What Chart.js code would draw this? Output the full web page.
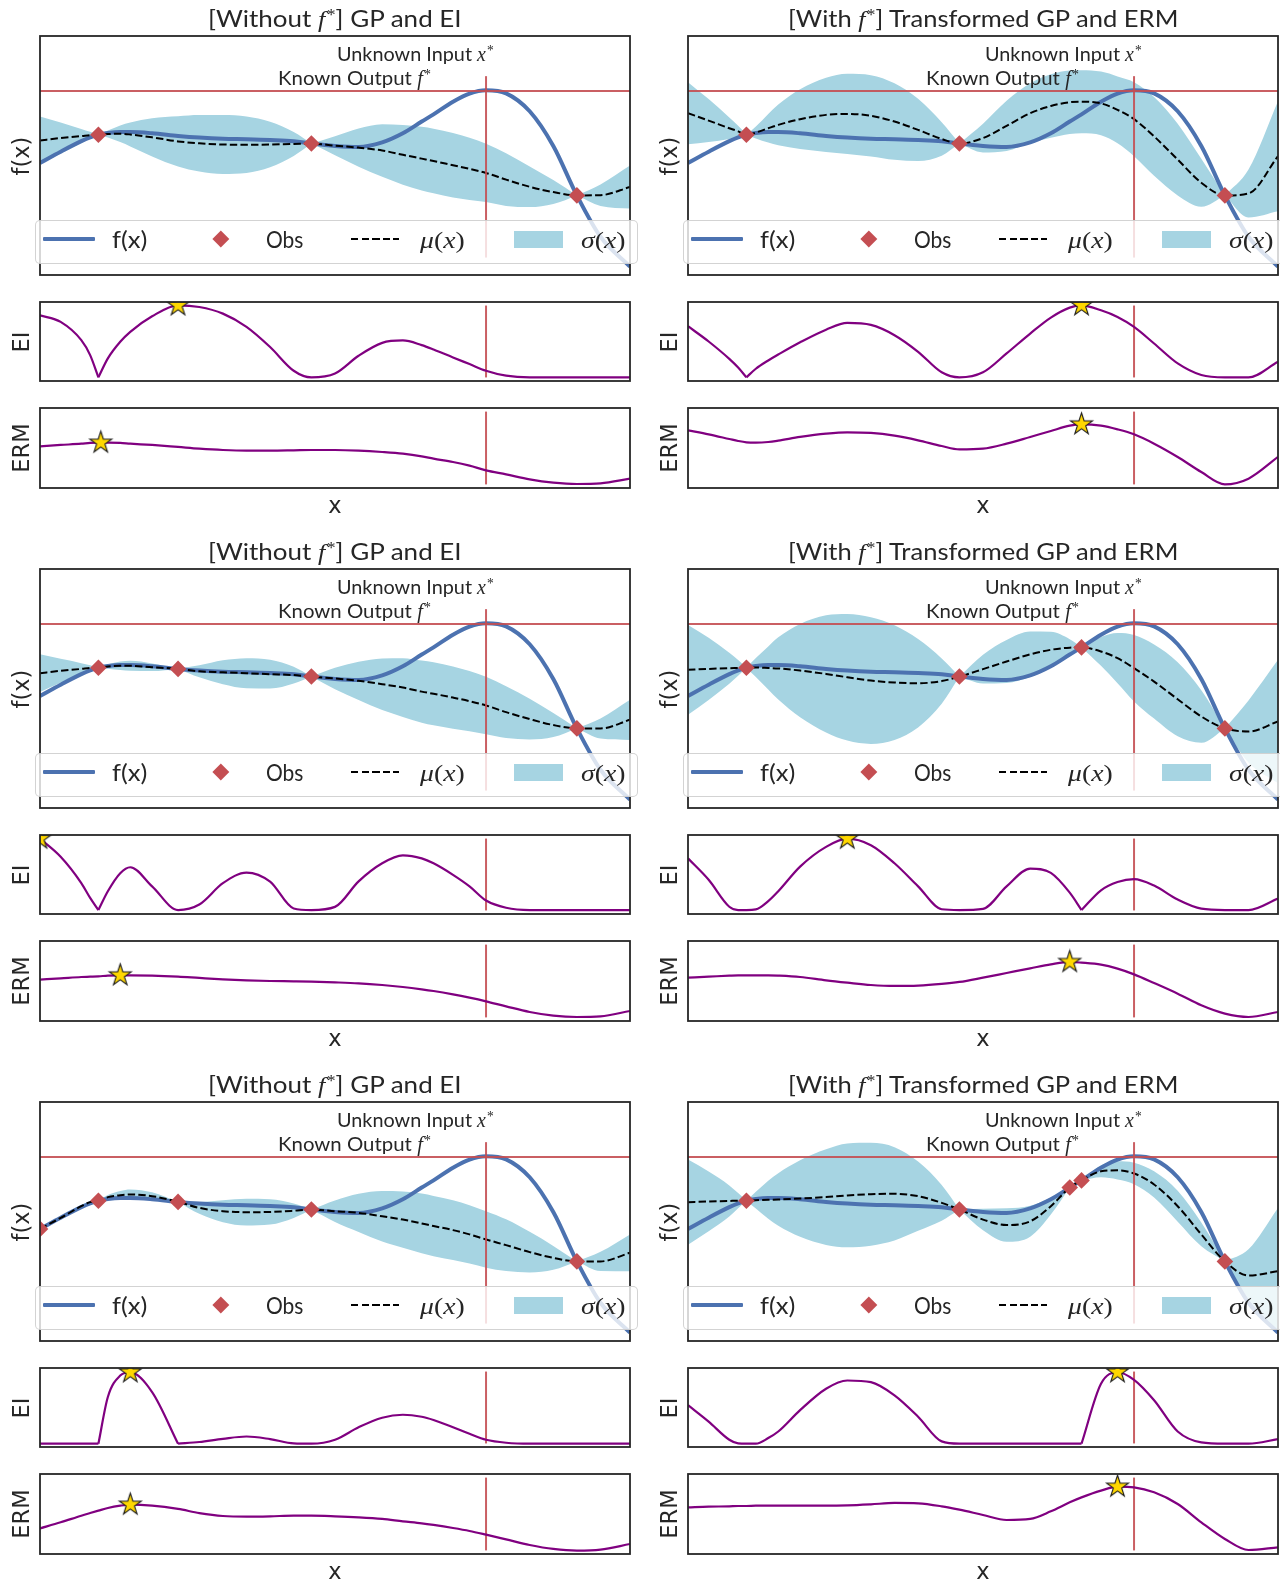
<!DOCTYPE html>
<html>
<head>
<meta charset="utf-8">
<title>GP and EI versus Transformed GP and ERM</title>
<script src="https://cdn.jsdelivr.net/npm/chart.js@4.4.1/dist/chart.umd.min.js"></script>
<style>
  html, body { margin: 0; padding: 0; background: #fff; }
  body { position: relative; width: 1280px; height: 1581px; overflow: hidden; }
  canvas.plot { position: absolute; }
  .t { position: absolute; white-space: nowrap; line-height: 1; color: #262626; transform-origin: left center; }
  .sans { font-family: Lato, "Open Sans", sans-serif; font-weight: 400; }
  .s24 { font-size: 24px; }
  .s20 { font-size: 20px; }
  .dv { font-family: "DejaVu Sans", sans-serif; font-size: 22.5px; }
  .m { font-family: "Liberation Serif", "DejaVu Serif", serif; font-style: italic; font-weight: 400; }
  .up { font-family: "Liberation Serif", "DejaVu Serif", serif; font-style: normal; font-weight: 400; }
  .sup { font-family: "Liberation Serif", "DejaVu Serif", serif; font-size: 0.68em; position: relative; top: -0.45em; margin-left: 0.08em; font-weight: 400; }
  .leg { position: absolute; box-sizing: border-box; border: 1px solid rgba(200,200,200,0.8); border-radius: 5px; background: rgba(255,255,255,0.8); }
  .sym { position: absolute; }
</style>
</head>
<body>
<script>
// ---------- input grid (unit interval) ----------
const X = [0, 0.035, 0.07, 0.085, 0.099, 0.115, 0.136, 0.153, 0.19, 0.234, 0.27, 0.31, 0.35, 0.39, 0.43,
           0.46, 0.5, 0.54, 0.58, 0.615, 0.647, 0.667, 0.7, 0.728, 0.756, 0.79, 0.83, 0.87, 0.91, 0.95, 1.0];

// ---------- objective and its optimum ----------
const F_TRUE = [46.9, 51.6, 56.0, 57.6, 58.7, 59.4, 59.8, 59.8, 59.3, 58.2, 57.5, 57.0, 56.8, 56.5, 56.0,
                55.0, 54.0, 53.6, 55.5, 59.3, 64.2, 67.2, 72.5, 75.9, 77.3, 76.0, 68.5, 54.0, 33.3, 16.0, 3.5];
const F_STAR = 77.0;
const X_STAR = 0.756;
const VLINE_F = [7.3, 83.2];
const VLINE_ACQ = [4.5, 95.5];

// ---------- iteration 1, GP + EI ----------
const OBS_X_L1 = [0.099, 0.46, 0.91];
const OBS_Y_L1 = [58.7, 55.0, 33.3];
const MU_L1 = [56.3, 57.3, 58.1, 58.5, 58.7, 59.0, 59.1, 58.8, 57.6, 55.9, 55.1, 54.6, 54.5, 54.6, 54.8,
               55.0, 54.1, 53.3, 52.1, 50.3, 48.7, 47.7, 45.9, 44.4, 42.7, 39.9, 36.9, 34.7, 33.3, 33.4, 36.8];
const SD_L1 = [10.0, 6.5, 3.0, 1.4, 0, 1.5, 3.5, 5.0, 8.0, 10.5, 11.8, 12.3, 11.8, 9.5, 5.0,
               0, 4.0, 8.0, 11.0, 12.5, 13.3, 13.5, 13.5, 13.0, 12.2, 11.0, 8.5, 5.0, 0, 4.5, 9.0];
const EI_L1 = [83.2, 74.8, 51.7, 32.8, 4.6, 28.6, 49.6, 62.2, 81.9, 95.8, 93.7, 85.3, 68.5, 43.0, 13.0,
               4.6, 9.5, 32.0, 48.3, 51.3, 45.4, 39.9, 29.8, 21.4, 13.0, 6.7, 4.6, 4.6, 4.6, 4.6, 4.6];
const ERM_L1 = [52.1, 53.8, 55.4, 56.3, 56.7, 56.7, 56.3, 55.4, 53.8, 51.3, 49.2, 47.5, 46.7, 46.7, 47.1,
                47.5, 47.5, 46.7, 45.0, 42.9, 39.6, 36.7, 32.5, 27.9, 22.1, 17.1, 10.8, 6.7, 5.0, 5.8, 11.7];
const STAR_EI_L1 = [0.234, 95.8];
const STAR_ERM_L1 = [0.103, 56.7];
const KINK_L1 = [0.099];

// ---------- iteration 1, transformed GP + ERM ----------
const OBS_X_R1 = [0.099, 0.46, 0.91];
const OBS_Y_R1 = [58.7, 55.0, 33.3];
const MU_R1 = [67.7, 64.6, 61.4, 60.1, 58.7, 59.6, 61.4, 62.8, 65.2, 67.0, 67.4, 66.6, 64.2, 60.7, 56.9,
               55.0, 57.3, 62.4, 67.7, 70.7, 72.3, 72.5, 71.8, 69.1, 65.2, 58.0, 48.3, 38.6, 33.3, 34.1, 49.7];
const SD_R1 = [13.0, 9.0, 4.5, 2.3, 0, 2.5, 6.0, 8.5, 12.5, 15.5, 16.8, 17.0, 16.0, 13.0, 7.0,
               0, 6.0, 10.5, 12.5, 13.3, 13.3, 13.2, 13.3, 14.0, 15.5, 16.5, 15.0, 10.0, 0, 10.0, 23.0];
const EI_R1 = [69.3, 50.0, 28.0, 17.0, 4.6, 15.5, 26.0, 33.5, 49.0, 65.0, 73.5, 71.0, 58.0, 37.0, 11.0,
               4.6, 11.0, 34.9, 60.1, 80.3, 92.9, 95.8, 89.5, 81.1, 68.5, 47.5, 22.3, 7.6, 4.6, 4.6, 24.4];
const ERM_R1 = [72.1, 67.1, 61.3, 58.8, 57.1, 56.7, 57.5, 59.2, 63.8, 67.9, 69.6, 68.8, 65.4, 59.6, 52.5,
                48.3, 49.2, 55.4, 63.8, 71.3, 77.9, 79.6, 77.9, 73.3, 67.1, 55.4, 38.8, 20.0, 4.6, 11.7, 38.8];
const STAR_EI_R1 = [0.667, 95.8];
const STAR_ERM_R1 = [0.667, 79.6];
const KINK_R1 = [0.099];

// ---------- iteration 2, GP + EI ----------
const OBS_X_L2 = [0.099, 0.234, 0.46, 0.91];
const OBS_Y_L2 = [58.7, 58.2, 55.0, 33.3];
const MU_L2 = [56.4, 57.4, 58.2, 58.6, 58.7, 59.2, 59.5, 59.5, 58.9, 58.2, 57.2, 56.8, 56.4, 56.0, 55.6,
               55.0, 54.2, 53.2, 51.8, 50.4, 48.7, 47.8, 46.2, 44.7, 42.9, 40.1, 37.2, 34.7, 33.3, 33.3, 36.9];
const SD_L2 = [7.9, 5.0, 2.4, 1.1, 0, 0.9, 1.8, 2.1, 1.6, 0, 2.5, 5.0, 6.3, 6.0, 3.5,
               0, 4.5, 8.0, 10.8, 12.3, 13.0, 13.2, 13.0, 12.6, 12.0, 10.8, 8.5, 5.0, 0, 4.2, 8.4];
const EI_L2 = [95.4, 72.5, 39.2, 20.4, 5.0, 28.8, 51.7, 59.2, 35.0, 5.0, 12.0, 39.0, 52.5, 41.0, 7.0,
               5.0, 9.0, 41.3, 64.2, 74.2, 70.4, 64.2, 49.6, 35.0, 17.1, 7.9, 5.0, 5.0, 5.0, 5.0, 5.0];
const ERM_L2 = [51.7, 53.3, 55.0, 55.4, 55.8, 56.7, 57.1, 57.1, 56.7, 55.4, 53.8, 52.1, 50.8, 50.0, 49.6,
                49.2, 48.3, 47.1, 45.0, 42.5, 39.6, 37.5, 33.3, 29.2, 24.6, 18.3, 11.3, 6.7, 5.0, 5.8, 12.5];
const STAR_EI_L2 = [0, 95.4];
const STAR_ERM_L2 = [0.136, 57.1];
const KINK_L2 = [0.099];

// ---------- iteration 2, transformed GP + ERM ----------
const OBS_X_R2 = [0.099, 0.46, 0.667, 0.91];
const OBS_Y_R2 = [58.7, 55.0, 67.2, 33.3];
const MU_R2 = [57.8, 58.2, 58.5, 58.6, 58.7, 58.8, 58.6, 58.4, 57.5, 56.1, 54.7, 53.3, 52.5, 52.2, 53.1,
               55.0, 58.1, 61.3, 64.3, 66.2, 67.1, 67.2, 65.5, 62.7, 58.5, 52.9, 45.5, 38.3, 33.3, 32.0, 36.2];
const SD_R2 = [18.8, 13.0, 6.5, 3.3, 0, 4.0, 9.0, 13.0, 19.5, 24.5, 26.5, 26.5, 24.0, 18.5, 9.5,
               0, 6.0, 9.0, 9.5, 7.5, 3.5, 0, 6.0, 10.5, 13.9, 15.5, 15.5, 11.0, 0, 13.0, 25.8];
const EI_R2 = [70.4, 43.3, 9.2, 5.0, 5.0, 5.8, 16.3, 28.8, 60.0, 85.0, 95.4, 87.1, 64.2, 35.0, 6.0,
               5.0, 6.5, 35.0, 57.5, 52.0, 27.0, 5.0, 30.0, 40.5, 44.2, 36.0, 18.3, 6.7, 5.0, 5.0, 19.6];
const ERM_R2 = [54.2, 55.4, 56.7, 57.1, 57.1, 57.1, 57.1, 56.7, 55.0, 50.8, 47.9, 45.0, 43.8, 44.2, 46.3,
                48.8, 54.2, 60.0, 65.8, 70.8, 73.8, 72.9, 70.4, 65.4, 58.3, 47.5, 34.2, 19.6, 9.2, 5.0, 11.3];
const STAR_EI_R2 = [0.27, 95.4];
const STAR_ERM_R2 = [0.647, 73.8];
const KINK_R2 = [0.667];

// ---------- iteration 3, GP + EI ----------
const OBS_X_L3 = [0, 0.099, 0.234, 0.46, 0.91];
const OBS_Y_L3 = [46.9, 58.7, 58.2, 55.0, 33.3];
const MU_L3 = [46.9, 51.5, 56.4, 58.1, 58.7, 60.2, 61.0, 61.3, 60.6, 58.2, 55.7, 54.3, 53.9, 54.0, 54.5,
               55.0, 54.3, 53.6, 52.2, 50.8, 49.2, 48.1, 46.4, 44.6, 42.5, 40.1, 37.2, 34.8, 33.3, 33.3, 36.9];
const SD_L3 = [0, 0.6, 0.6, 0.3, 0, 0.9, 1.8, 2.1, 1.6, 0, 2.5, 4.6, 5.6, 5.3, 3.0,
               0, 4.5, 8.0, 10.6, 11.8, 12.5, 12.6, 12.5, 12.2, 11.8, 10.8, 8.5, 5.0, 0, 4.0, 7.7];
const EI_L3 = [4.2, 4.2, 4.2, 4.2, 4.2, 63.3, 90.4, 94.6, 69.6, 4.2, 6.3, 10.4, 13.3, 10.0, 4.6,
               4.2, 9.2, 25.0, 37.1, 40.8, 38.3, 34.2, 25.0, 16.7, 9.2, 5.4, 4.2, 4.2, 4.2, 4.2, 4.2];
const ERM_L3 = [32.1, 39.6, 47.9, 51.2, 54.2, 57.5, 60.4, 61.7, 60.4, 56.3, 51.2, 47.5, 46.7, 47.1, 47.9,
                47.9, 47.1, 45.8, 43.8, 40.8, 38.3, 36.3, 32.5, 28.8, 24.2, 18.3, 11.3, 6.3, 4.2, 5.4, 12.5];
const STAR_EI_L3 = [0.153, 94.6];
const STAR_ERM_L3 = [0.153, 61.7];
const KINK_L3 = [0.099, 0.234];

// ---------- iteration 3, transformed GP + ERM ----------
const OBS_X_R3 = [0.099, 0.46, 0.647, 0.667, 0.91];
const OBS_Y_R3 = [58.7, 55.0, 64.2, 67.2, 33.3];
const MU_R3 = [58.1, 58.4, 58.6, 58.7, 58.7, 58.9, 59.1, 59.2, 59.6, 60.2, 60.9, 61.4, 61.6, 60.6, 57.8,
               55.0, 50.8, 48.5, 50.1, 56.4, 64.2, 67.2, 71.0, 71.4, 70.1, 65.5, 56.4, 44.6, 33.3, 27.4, 29.2];
const SD_R3 = [17.8, 12.5, 6.5, 3.2, 0, 3.5, 8.0, 11.0, 16.0, 20.0, 21.7, 21.5, 19.5, 14.5, 7.5,
               0, 4.5, 7.0, 6.5, 3.5, 0, 0, 2.5, 3.8, 4.5, 5.5, 6.5, 5.0, 0, 11.0, 26.5];
const EI_R3 = [52.9, 32.1, 9.2, 4.6, 4.2, 4.2, 11.3, 19.6, 46.7, 73.8, 84.2, 82.1, 65.4, 38.3, 7.1,
               4.2, 4.2, 4.2, 4.2, 4.2, 4.2, 4.2, 80.0, 94.6, 85.0, 59.2, 19.6, 5.8, 4.2, 4.2, 10.0];
const ERM_R3 = [58.3, 59.2, 59.6, 60.0, 60.0, 60.4, 60.4, 60.4, 60.4, 60.4, 60.8, 62.1, 63.8, 63.3, 59.6,
                55.4, 48.8, 42.5, 43.8, 53.3, 64.6, 70.8, 79.2, 84.2, 83.3, 77.1, 62.5, 39.6, 18.8, 5.0, 8.3];
const STAR_EI_R3 = [0.728, 94.6];
const STAR_ERM_R3 = [0.728, 84.2];
const KINK_R3 = [0.667];

// ---------- colours ----------
const BLUE = '#4C72B0';
const RED = '#C44E52';
const RED_LINE = 'rgba(196,78,82,0.9)';
const BAND = '#A6D4E2';
const PURPLE = '#800080';
const FRAME = '#262626';

// ---------- layout ----------
const AX_X = [40, 688];
const AX_W = 590;
const ROW_Y = [0, 533, 1066];
const F_BOX = [36, 239];
const EI_BOX = [302, 79];
const ERM_BOX = [408, 80];
const PAD = 14;

const PANELS = [
  {col: 0, row: 0, mu: MU_L1, sd: SD_L1, ei: EI_L1, erm: ERM_L1, ox: OBS_X_L1, oy: OBS_Y_L1, se: STAR_EI_L1, sr: STAR_ERM_L1, kinks: KINK_L1},
  {col: 1, row: 0, mu: MU_R1, sd: SD_R1, ei: EI_R1, erm: ERM_R1, ox: OBS_X_R1, oy: OBS_Y_R1, se: STAR_EI_R1, sr: STAR_ERM_R1, kinks: KINK_R1},
  {col: 0, row: 1, mu: MU_L2, sd: SD_L2, ei: EI_L2, erm: ERM_L2, ox: OBS_X_L2, oy: OBS_Y_L2, se: STAR_EI_L2, sr: STAR_ERM_L2, kinks: KINK_L2},
  {col: 1, row: 1, mu: MU_R2, sd: SD_R2, ei: EI_R2, erm: ERM_R2, ox: OBS_X_R2, oy: OBS_Y_R2, se: STAR_EI_R2, sr: STAR_ERM_R2, kinks: KINK_R2},
  {col: 0, row: 2, mu: MU_L3, sd: SD_L3, ei: EI_L3, erm: ERM_L3, ox: OBS_X_L3, oy: OBS_Y_L3, se: STAR_EI_L3, sr: STAR_ERM_L3, kinks: KINK_L3},
  {col: 1, row: 2, mu: MU_R3, sd: SD_R3, ei: EI_R3, erm: ERM_R3, ox: OBS_X_R3, oy: OBS_Y_R3, se: STAR_EI_R3, sr: STAR_ERM_R3, kinks: KINK_R3}
];

const TITLES = [
  '[Without <span class="m">f</span><span class="sup">*</span>] GP and EI',
  '[With <span class="m">f</span><span class="sup">*</span>] Transformed GP and ERM'
];
const TITLE_W = [253.5, 390.8];

// ---------- helpers ----------
const pts = ys => X.map((x, i) => ({x, y: ys[i]}));
const pairs = (xs, ys) => xs.map((x, i) => ({x, y: ys[i]}));

// split a sampled curve at the given inputs so that corners stay sharp there
function pieces(ys, atX) {
  const cuts = atX.map(x => X.indexOf(x)).filter(i => i > 0 && i < X.length - 1);
  const idx = [0, ...cuts, X.length - 1];
  const out = [];
  for (let k = 0; k < idx.length - 1; k++) {
    const seg = [];
    for (let i = idx[k]; i <= idx[k + 1]; i++) seg.push({x: X[i], y: ys[i]});
    out.push(seg);
  }
  return out;
}

// gold five-pointed star marker
function makeStar(R) {
  const s = Math.ceil(2 * R + 4);
  const c = document.createElement('canvas');
  c.width = s; c.height = s;
  const g = c.getContext('2d');
  g.translate(s / 2, s / 2);
  g.beginPath();
  for (let k = 0; k < 10; k++) {
    const r = k % 2 === 0 ? R : R * 0.382;
    const a = -Math.PI / 2 + k * Math.PI / 5;
    const px = r * Math.cos(a), py = r * Math.sin(a);
    if (k === 0) g.moveTo(px, py); else g.lineTo(px, py);
  }
  g.closePath();
  g.fillStyle = '#FFD700';
  g.fill();
  g.lineWidth = 1.1;
  g.strokeStyle = '#1a1a1a';
  g.lineJoin = 'miter';
  g.stroke();
  return c;
}
const STAR = makeStar(11.5);

const framePlugin = {
  id: 'frame',
  afterDraw(chart) {
    const {ctx, chartArea: a} = chart;
    ctx.save();
    ctx.strokeStyle = FRAME;
    ctx.lineWidth = 1.8;
    ctx.strokeRect(a.left, a.top, a.right - a.left, a.bottom - a.top);
    ctx.restore();
  }
};

function options() {
  return {
    responsive: false,
    animation: false,
    events: [],
    layout: {padding: PAD},
    plugins: {legend: {display: false}, tooltip: {enabled: false}, title: {display: false}},
    scales: {
      x: {type: 'linear', min: 0, max: 1, display: false},
      y: {type: 'linear', min: 0, max: 100, display: false}
    },
    elements: {
      point: {radius: 0},
      line: {cubicInterpolationMode: 'monotone', borderCapStyle: 'butt', borderJoinStyle: 'round'}
    }
  };
}

function mkChart(left, top, w, h, datasets) {
  const c = document.createElement('canvas');
  c.className = 'plot';
  c.width = w + 2 * PAD;
  c.height = h + 2 * PAD;
  c.style.left = (left - PAD) + 'px';
  c.style.top = (top - PAD) + 'px';
  c.style.width = c.width + 'px';
  c.style.height = c.height + 'px';
  document.body.appendChild(c);
  return new Chart(c, {type: 'line', data: {datasets}, options: options(), plugins: [framePlugin]});
}

const straight = {cubicInterpolationMode: 'default', tension: 0, fill: false, clip: 0};

function fDatasets(p) {
  const upper = p.mu.map((m, i) => m + p.sd[i]);
  const lower = p.mu.map((m, i) => m - p.sd[i]);
  const up = pieces(upper, p.ox);
  const lo = pieces(lower, p.ox);
  const band = [];
  up.forEach((seg, k) => {
    band.push({data: seg, borderWidth: 0, backgroundColor: BAND, fill: '+1', order: 10, clip: 0});
    band.push({data: lo[k], borderWidth: 0, fill: false, order: 10, clip: 0});
  });
  return band.concat([
    {data: pts(F_TRUE), borderColor: BLUE, borderWidth: 4, fill: false, order: 8, clip: 0},
    {data: pts(p.mu), borderColor: '#000', borderWidth: 2, borderDash: [7.4, 3.2], fill: false, order: 7, clip: 0},
    Object.assign({data: [{x: 0, y: F_STAR}, {x: 1, y: F_STAR}], borderColor: RED_LINE, borderWidth: 2, order: 5}, straight),
    Object.assign({data: [{x: X_STAR, y: VLINE_F[0]}, {x: X_STAR, y: VLINE_F[1]}], borderColor: RED_LINE, borderWidth: 2, order: 5}, straight),
    {data: pairs(p.ox, p.oy), showLine: false, pointStyle: 'rectRot', pointRadius: 8.3,
     backgroundColor: RED, borderColor: RED, borderWidth: 0, order: 1, clip: 0}
  ]);
}

function acqDatasets(segs, star) {
  const sets = [
    Object.assign({data: [{x: X_STAR, y: VLINE_ACQ[0]}, {x: X_STAR, y: VLINE_ACQ[1]}], borderColor: RED_LINE, borderWidth: 2, order: 6}, straight)
  ];
  segs.forEach(seg => sets.push({data: seg, borderColor: PURPLE, borderWidth: 2.2, fill: false, order: 4, clip: 0}));
  sets.push({data: [{x: star[0], y: star[1]}], showLine: false, pointStyle: STAR, pointRadius: 11, order: 1, clip: 0});
  return sets;
}

function text(html, cls, left, cy, w) {
  const el = document.createElement('div');
  el.className = 't ' + cls;
  el.innerHTML = html;
  document.body.appendChild(el);
  const k = w / el.offsetWidth;
  el.style.left = left + 'px';
  el.style.top = cy + 'px';
  el.style.transform = 'translateY(-50%) scaleX(' + k.toFixed(4) + ')';
  return el;
}

function vtext(str, cx, cy) {
  const el = document.createElement('div');
  el.className = 't dv';
  el.textContent = str;
  el.style.transformOrigin = 'center center';
  document.body.appendChild(el);
  el.style.left = cx + 'px';
  el.style.top = cy + 'px';
  el.style.transform = 'translate(-50%, -50%) rotate(-90deg)';
  return el;
}

function htext(str, cx, cy) {
  const el = document.createElement('div');
  el.className = 't dv';
  el.textContent = str;
  document.body.appendChild(el);
  el.style.left = cx + 'px';
  el.style.top = cy + 'px';
  el.style.transform = 'translate(-50%, -50%)';
  return el;
}

function box(cls, left, top, w, h, css) {
  const el = document.createElement('div');
  el.className = cls;
  el.style.left = left + 'px';
  el.style.top = top + 'px';
  el.style.width = w + 'px';
  el.style.height = h + 'px';
  if (css) Object.assign(el.style, css);
  document.body.appendChild(el);
  return el;
}

function legend(ax, ry) {
  box('leg', ax - 5.5, ry + 220, 603, 43.5);
  box('sym', ax + 2.5, ry + 237, 52, 4, {background: BLUE, borderRadius: '1px'});
  text('f(x)', 'sans s24', ax + 71.7, ry + 238.5, 35.2);
  box('sym', ax + 181.3 - 5.85, ry + 239 - 5.85, 11.7, 11.7, {background: RED, transform: 'rotate(45deg)'});
  text('Obs', 'sans s24', ax + 225.5, ry + 238.5, 37.6);
  box('sym', ax + 311.3, ry + 238, 47.8, 2,
      {background: 'repeating-linear-gradient(90deg, #000 0 7.4px, transparent 7.4px 10.6px)'});
  text('<span class="m">μ</span><span class="up">(</span><span class="m">x</span><span class="up">)</span>',
       'sans s24', ax + 379.5, ry + 238.5, 45);
  box('sym', ax + 473.5, ry + 231, 49, 17.3, {background: BAND});
  text('<span class="m">σ</span><span class="up">(</span><span class="m">x</span><span class="up">)</span>',
       'sans s24', ax + 541, ry + 238.5, 45);
}

// ---------- draw every panel ----------
PANELS.forEach(p => {
  const ax = AX_X[p.col];
  const ry = ROW_Y[p.row];

  mkChart(ax, ry + F_BOX[0], AX_W, F_BOX[1], fDatasets(p));
  mkChart(ax, ry + EI_BOX[0], AX_W, EI_BOX[1], acqDatasets(pieces(p.ei, p.kinks), p.se));
  mkChart(ax, ry + ERM_BOX[0], AX_W, ERM_BOX[1], acqDatasets([pts(p.erm)], p.sr));

  const cx = ax + AX_W / 2;
  text(TITLES[p.col], 'sans s24', cx - TITLE_W[p.col] / 2, ry + 18.3, TITLE_W[p.col]);
  text('Unknown Input <span class="m">x</span><span class="sup">*</span>', 'sans s20', ax + 296.5, ry + 53.3, 156.6);
  text('Known Output <span class="m">f</span><span class="sup">*</span>', 'sans s20', ax + 237.5, ry + 77.3, 153);

  vtext('f(x)', ax - 19, ry + F_BOX[0] + F_BOX[1] / 2);
  vtext('EI', ax - 19, ry + EI_BOX[0] + EI_BOX[1] / 2);
  vtext('ERM', ax - 19, ry + ERM_BOX[0] + ERM_BOX[1] / 2);
  htext('x', cx, ry + 505);

  legend(ax, ry);
});
</script>
</body>
</html>
